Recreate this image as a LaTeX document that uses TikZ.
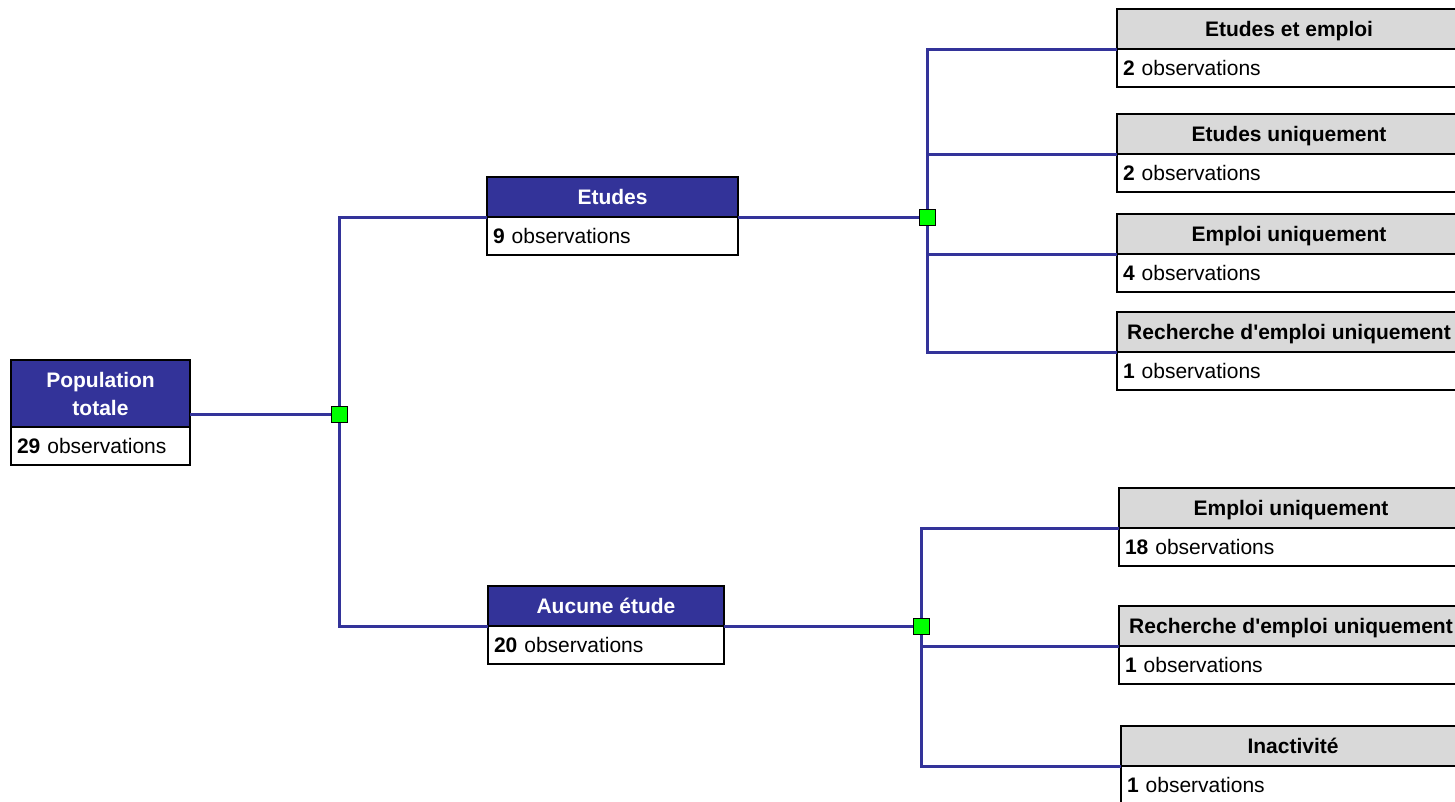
\documentclass[tikz,border=0pt]{standalone}
\usepackage{fontspec}
\setmainfont{Liberation Sans}
\usetikzlibrary{calc}
\definecolor{catblue}{HTML}{333399}
\definecolor{catgray}{HTML}{D9D9D9}
\definecolor{splitgreen}{HTML}{00FF00}
\newcommand\catfont{\fontsize{21}{28}\selectfont}
\tikzset{
  cat head/.style={draw=black, line width=1.5pt, fill=catblue, text=white,
        font=\catfont\bfseries, minimum height=40pt, inner sep=0pt,
        text depth=0pt, outer sep=0pt, anchor=north west, align=center},
  leaf head/.style={cat head, fill=catgray, text=black},
  root head/.style={cat head, minimum height=67pt},
  cat count/.style={draw=black, line width=1.5pt, fill=white, font=\catfont,
        minimum height=38pt, inner ysep=0pt, inner xsep=6pt, outer sep=0pt,
        text depth=0pt, anchor=north west, align=left},
  split/.style={draw=black, line width=0.6pt, fill=splitgreen,
        minimum size=16pt, inner sep=0pt},
  split link/.style={draw=catblue, line width=3pt}
}
\def\Category#1#2#3#4#5#6{%
  \pgfmathsetmacro\countwidth{#4-12}
  \node[#1, minimum width=#4pt] (#2) at (#3) {#5};
  \node[cat count, text width=\countwidth pt] (#2-count) at (#2.south west)
       {\textbf{#6} observations};
}

\begin{document}
\begin{tikzpicture}[x=1pt, y=-1pt]
\useasboundingbox (0,0) rectangle (1455,801);
\coordinate (j0) at (339,414);
\coordinate (j1) at (927,217);
\coordinate (j2) at (921,626);

\Category{root head}{pop}{11,360}{179}{Population\\totale}{29}
\Category{cat head}{etu}{487,177}{251}{Etudes}{9}
\Category{cat head}{auc}{488,586}{236}{Aucune étude}{20}

\Category{leaf head}{etu-emp}{1117,9}{344}{Etudes et emploi}{2}
\Category{leaf head}{etu-uni}{1117,114}{344}{Etudes uniquement}{2}
\Category{leaf head}{etu-job}{1117,214}{344}{Emploi uniquement}{4}
\Category{leaf head}{etu-rech}{1117,312}{344}{Recherche d\textquotesingle emploi uniquement}{1}

\Category{leaf head}{auc-job}{1119,488}{344}{Emploi uniquement}{18}
\Category{leaf head}{auc-rech}{1119,606}{344}{Recherche d\textquotesingle emploi uniquement}{1}
\Category{leaf head}{auc-inac}{1121,726}{344}{Inactivité}{1}

\draw[split link] (pop.east |- j0) -- (j0);
\draw[split link] (j0) |- (etu.south west);
\draw[split link] (j0) |- (auc.south west);

\draw[split link] (etu.south east) -- (j1);
\foreach \leaf in {etu-emp,etu-uni,etu-job,etu-rech}
  \draw[split link] (j1) |- (\leaf.south west);

\draw[split link] (auc.south east) -- (j2);
\foreach \leaf in {auc-job,auc-rech,auc-inac}
  \draw[split link] (j2) |- (\leaf.south west);

\node[split] (j0-mark) at (j0) {};
\node[split] (j1-mark) at (j1) {};
\node[split] (j2-mark) at (j2) {};
\end{tikzpicture}
\end{document}
